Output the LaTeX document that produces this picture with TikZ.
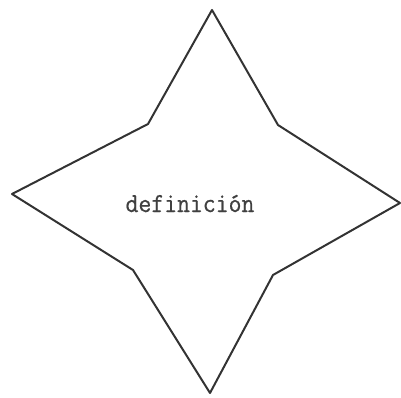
\documentclass[tikz,border=0pt]{standalone}
\usepackage{fontspec}
\newfontfamily\monof[FakeBold=0.6]{Latin Modern Mono}
\begin{document}
\begin{tikzpicture}[x=1pt,y=-1pt,
  starline/.style={draw=black!80,line width=2pt,line join=round},
  lbl/.style={font=\monof\fontsize{25}{28}\selectfont,text=black!75,inner sep=0pt}]
\useasboundingbox (0,0) rectangle (401,398);
\coordinate (t) at (212,10);
\coordinate (ur) at (278,125);
\coordinate (r) at (400,203);
\coordinate (lr) at (273,275);
\coordinate (b) at (210,393);
\coordinate (ll) at (133,270);
\coordinate (l) at (12,194);
\coordinate (ul) at (148,124);
\draw[starline] (t) -- (ur) -- (r) -- (lr) -- (b) -- (ll) -- (l) -- (ul) -- cycle;
\node[lbl,anchor=base,yscale=1.1] (d) at (190,212) {definición};
\end{tikzpicture}
\end{document}
